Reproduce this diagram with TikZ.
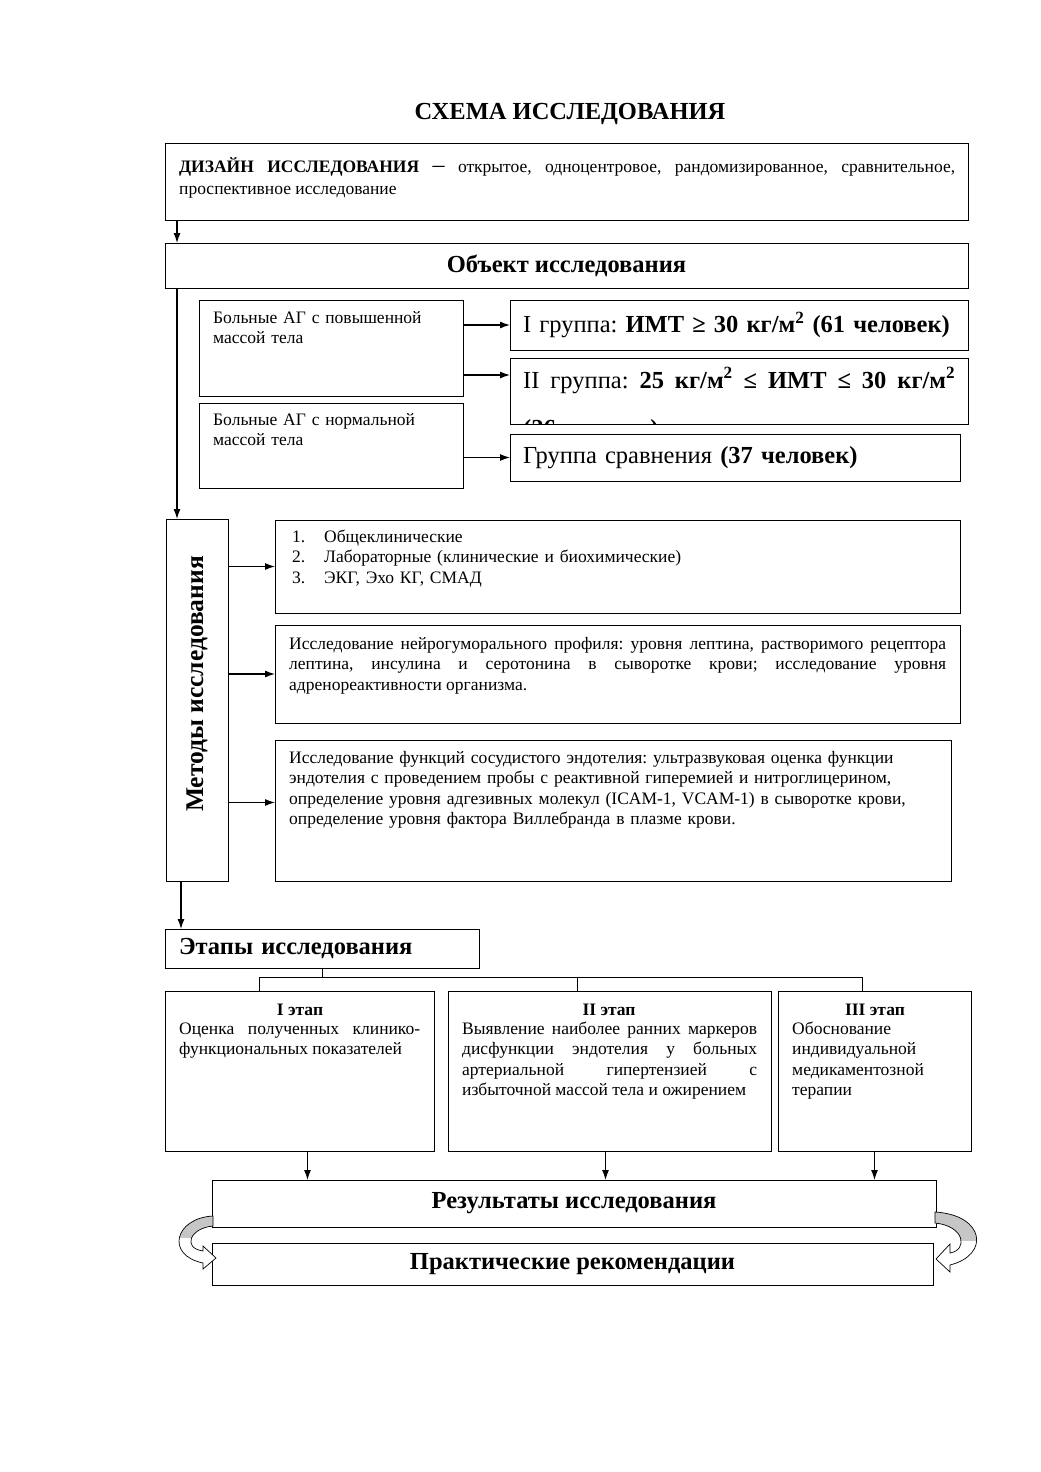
\documentclass[tikz,border=0pt]{standalone}
\usepackage{fontspec}
\setmainfont{Liberation Serif}
\usetikzlibrary{arrows.meta}
\frenchspacing
\newcommand{\msq}{\textsuperscript{2}}
\begin{document}
\begin{tikzpicture}[x=1pt,y=-1pt,>={Latex[length=10pt,width=7pt]},
  box/.style={draw,line width=1pt,anchor=north west,inner sep=0pt,outer sep=0pt},
  conn/.style={->,line width=1.2pt},
  txt/.style={font=\fontsize{17.5}{20.5}\selectfont,inner sep=0pt,anchor=base west},
  head/.style={font=\fontsize{24.5}{29}\selectfont\bfseries},
  grp/.style={font=\fontsize{24.5}{48}\selectfont,align=left,inner xsep=13pt},
  lrib/.style={insert path={(213,1216) .. controls (175,1218) and (165,1255) .. (203,1263) -- (203,1269) -- (216,1258) -- (203,1246) -- (203,1251) .. controls (182,1248) and (190,1228) .. (213,1226) -- cycle}},
  rrib/.style={insert path={(935,1212) .. controls (985,1215) and (990,1255) .. (950,1265) -- (950,1272) -- (936,1259) -- (950,1244) -- (950,1253) .. controls (968,1250) and (965,1226) .. (935,1223) -- cycle}}]
\useasboundingbox (0,0) rectangle (1041,1472);

\node[head] (title) at (570,114) {СХЕМА ИССЛЕДОВАНИЯ};

% design and object
\node[box,minimum width=803pt,minimum height=77pt] (design) at (165,143) {};
\node[txt,text width=776pt,align=justify,font=\fontsize{17.5}{22}\selectfont] (designtxt) at (179,172)
  {\textbf{ДИЗАЙН ИССЛЕДОВАНИЯ} {\fontsize{24}{22}\selectfont –} открытое, одноцентровое, рандомизированное, сравнительное,\linebreak проспективное исследование};
\node[box,head,minimum width=803pt,minimum height=45pt] (object) at (165,243) {Объект исследования};

\draw[conn] ([xshift=12pt]design.south west) -- ([xshift=12pt]object.north west);

% patients and groups
\node[box,minimum width=264pt,minimum height=96pt] (pat1) at (199,300) {};
\node[txt,text width=240pt,align=left] (pat1txt) at (213,323) {Больные АГ с повышенной\\массой тела};
\node[box,minimum width=264pt,minimum height=85pt] (pat2) at (199,403) {};
\node[txt,text width=240pt,align=left] (pat2txt) at (213,425) {Больные АГ с нормальной\\массой тела};

\node[box,grp,text width=432pt,minimum height=50pt] (grp1) at (510,300)
  {I группа: \textbf{ИМТ ≥ 30 кг/м\msq{} (61 человек)}};
\node[box,minimum width=458pt,minimum height=66pt] (grp2) at (510,358) {};
\begin{scope}
\clip (grp2.north west) rectangle (grp2.south east);
\node[txt,font=\fontsize{24.5}{48}\selectfont,text width=432pt,align=justify] (grp2txt) at (523,388)
  {II группа: \textbf{25 кг/м\msq{} ≤ ИМТ ≤ 30 кг/м\msq}\linebreak \textbf{(26 человек)}};
\end{scope}
\node[box,grp,text width=424pt,minimum height=47pt] (grpc) at (510,434)
  {Группа сравнения \textbf{(37 человек)}};

\draw[conn] (pat1.east |- grp1.west) -- (grp1.west);
\draw[conn] (pat1.east |- 0,375) -- (grp2.west |- 0,375);
\draw[conn] (pat2.east |- grpc.west) -- (grpc.west);

% methods
\node[box,minimum width=62pt,minimum height=362pt] (meth) at (166,519) {};
\node[rotate=90,font=\fontsize{25.5}{30}\selectfont\bfseries] (methtxt) at (197,684) {Методы исследования};
\draw[conn] ([xshift=12pt]object.south west) -- ([xshift=12pt]object.south west |- meth.north);

\node[box,minimum width=685pt,minimum height=93pt] (m1) at (275,520) {};
\node[txt,text width=650pt,align=left] (m1txt) at (292,542)
  {\makebox[32pt][l]{1.}Общеклинические\\
   \makebox[32pt][l]{2.}Лабораторные (клинические и биохимические)\\
   \makebox[32pt][l]{3.}ЭКГ, Эхо КГ, СМАД};
\node[box,minimum width=685pt,minimum height=98pt] (m2) at (275,625) {};
\node[txt,text width=657pt,align=justify] (m2txt) at (289,649)
  {Исследование нейрогуморального профиля: уровня лептина, растворимого рецептора\linebreak
   лептина, инсулина и серотонина в сыворотке крови; исследование уровня\linebreak
   адренореактивности организма.};
\node[box,minimum width=676pt,minimum height=141pt] (m3) at (275,740) {};
\node[txt,text width=650pt,align=left] (m3txt) at (289,763)
  {Исследование функций сосудистого эндотелия: ультразвуковая оценка функции\\
   эндотелия с проведением пробы с реактивной гиперемией и нитроглицерином,\\
   определение уровня адгезивных молекул (ICAM-1, VCAM-1) в сыворотке крови,\\
   определение уровня фактора Виллебранда в плазме крови.};

\draw[conn] (meth.east |- m1.west) -- (m1.west);
\draw[conn] (meth.east |- m2.west) -- (m2.west);
\draw[conn] ([yshift=8pt]meth.east |- m3.west) -- ([yshift=8pt]m3.west);

% stages
\node[box,head,text width=286pt,align=left,inner xsep=14pt,minimum height=39pt] (stages) at (165,929) {Этапы исследования};
\draw[conn] ([xshift=15pt]meth.south west) -- ([xshift=15pt]meth.south west |- stages.north);

\node[box,minimum width=269pt,minimum height=160pt] (s1) at (165,991) {};
\node[box,minimum width=323pt,minimum height=160pt] (s2) at (448,991) {};
\node[box,minimum width=193pt,minimum height=160pt] (s3) at (778,991) {};
\node[txt,anchor=base,font=\fontsize{17.5}{20.5}\selectfont\bfseries] (s1head) at (300,1015) {I этап};
\node[txt,anchor=base,font=\fontsize{17.5}{20.5}\selectfont\bfseries] (s2head) at (609,1015) {II этап};
\node[txt,anchor=base,font=\fontsize{17.5}{20.5}\selectfont\bfseries] (s3head) at (875,1015) {III этап};
\node[txt,text width=241pt,align=justify] (s1txt) at (179,1034)
  {Оценка полученных клинико-\linebreak функциональных показателей};
\node[txt,text width=295pt,align=justify] (s2txt) at (462,1034)
  {Выявление наиболее ранних маркеров\linebreak дисфункции эндотелия у больных\linebreak
   артериальной гипертензией с\linebreak избыточной массой тела и ожирением};
\node[txt,text width=170pt,align=left] (s3txt) at (792,1034)
  {Обоснование\\индивидуальной\\медикаментозной\\терапии};

\coordinate (fork) at (322,977);
\coordinate (t1) at (259,991);
\coordinate (t2) at (577,991);
\coordinate (t3) at (862,991);
\draw[line width=0.9pt] (stages.south) -- (stages.south |- fork);
\draw[line width=0.9pt] (t1) -- (t1 |- fork) -- (t3 |- fork) -- (t3);
\draw[line width=0.9pt] (t2) -- (t2 |- fork);

% results
\node[box,head,minimum width=724pt,minimum height=47pt] (res) at (212,1180) {Результаты исследования};
\node[box,head,minimum width=721pt,minimum height=42pt] (rec) at (212,1243) {Практические рекомендации};

\draw[conn] ([xshift=8pt]s1.south) -- ([xshift=8pt]s1.south |- res.north);
\draw[conn] ([xshift=-4pt]s2.south) -- ([xshift=-4pt]s2.south |- res.north);
\draw[conn] (s3.south) -- (s3.south |- res.north);

% curved arrows
\fill[white,lrib];
\begin{scope}
\clip (150,1200) rectangle (230,1237);
\fill[gray!45,lrib];
\end{scope}
\draw[line width=0.7pt,lrib];
\fill[white,rrib];
\begin{scope}
\clip (920,1200) rectangle (1000,1240);
\fill[gray!45,rrib];
\end{scope}
\draw[line width=0.7pt,rrib];
\end{tikzpicture}
\end{document}
